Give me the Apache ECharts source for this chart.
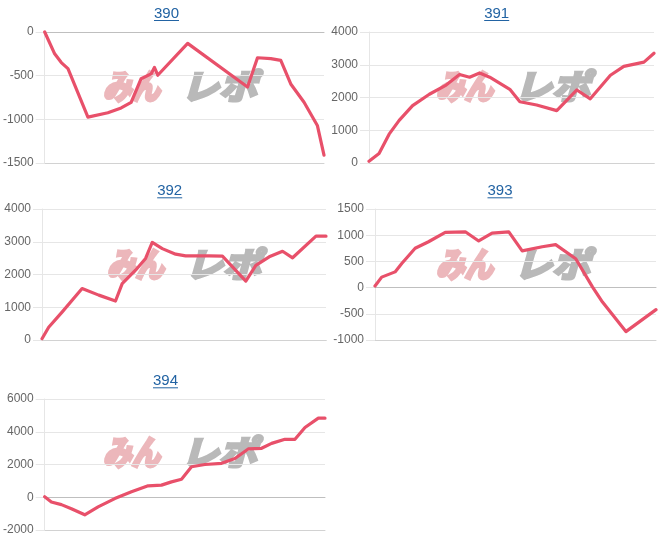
<!DOCTYPE html>
<html><head><meta charset="utf-8">
<script src="https://cdn.jsdelivr.net/npm/echarts/dist/echarts.min.js"></script>
<style>html,body{margin:0;padding:0;background:#fff}#c{width:664px;height:541px}</style>
</head><body><div id="c"></div>
<script>
// ---- data ----
const titles = ['390', '391', '392', '393', '394'];
const x390 = [0, 3, 5, 7, 13, 19, 23, 26, 29, 32, 33, 34, 43, 61, 64, 68, 71, 74, 78, 82, 84];
const y390 = [0, -250, -350, -420, -975, -925, -870, -805, -535, -480, -405, -495, -130, -630, -295, -305, -325, -595, -805, -1070, -1410];
const x391 = [0, 3, 6, 9, 13, 18, 23, 27, 30, 33, 36, 42, 45, 50, 56, 62, 66, 72, 76, 82, 85];
const y391 = [50, 290, 880, 1300, 1750, 2100, 2380, 2700, 2620, 2750, 2620, 2250, 1870, 1770, 1600, 2230, 1960, 2680, 2950, 3080, 3350];
const x392 = [0, 2, 6, 12, 17, 22, 24, 28, 31, 33, 36, 40, 43, 50, 54, 61, 64, 68, 72, 75, 82, 85];
const y392 = [40, 390, 850, 1570, 1370, 1190, 1720, 2130, 2490, 2980, 2790, 2620, 2570, 2570, 2560, 1800, 2280, 2540, 2710, 2510, 3170, 3170];
const x393 = [0, 2, 6, 8, 12, 16, 21, 27, 31, 35, 40, 44, 50, 54, 60, 65, 68, 75, 84];
const y393 = [30, 200, 300, 460, 750, 875, 1055, 1065, 890, 1040, 1065, 700, 780, 820, 550, 15, -275, -840, -420];
const x394 = [0, 2, 5, 8, 12, 16, 21, 26, 31, 35, 38, 41, 44, 48, 53, 57, 61, 65, 68, 72, 75, 78, 82, 84];
const y394 = [30, -290, -450, -700, -1070, -590, -80, 330, 700, 740, 940, 1100, 1860, 2000, 2070, 2370, 2950, 2990, 3290, 3540, 3540, 4260, 4830, 4830];
const yMin = [-1500, 0, 0, -1000, -2000];
const yMax = [0, 4000, 4000, 1500, 6000];
const yStep = [500, 1000, 1000, 500, 2000];

const xs = [x390, x391, x392, x393, x394];
const ys = [y390, y391, y392, y393, y394];

// ---- layout ----
const layout = [
  {left: 43, top: 32, width: 281, height: 131, tx: 166.5, ty: 13.5, wx: 102, wy: 73},
  {left: 369, top: 32, width: 285, height: 131, tx: 496.7, ty: 13.5, wx: 435, wy: 73},
  {left: 42, top: 209, width: 284, height: 131, tx: 169.7, ty: 190.8, wx: 106, wy: 251},
  {left: 375, top: 209, width: 281, height: 131, tx: 500, ty: 190.8, wx: 435, wy: 251},
  {left: 42, top: 399, width: 283, height: 131, tx: 165.5, ty: 380.8, wx: 102, wy: 439}
];
const FONT = '"Liberation Sans", Arial, Helvetica, sans-serif';
const LINK = '#2263a3';
const LINE = '#e8506a';
const GRIDC = '#e6e6e6';
const WMFONT = '"Noto Sans CJK JP", "Noto Sans CJK SC", sans-serif';

const mctx = document.createElement('canvas').getContext('2d');
mctx.font = '15px ' + FONT;

const grid = [], xAxis = [], yAxis = [], series = [], graphic = [];
layout.forEach((L, i) => {
  grid.push({left: L.left, top: L.top, width: L.width, height: L.height, containLabel: false});
  xAxis.push({
    gridIndex: i, type: 'value', min: 0, max: 'dataMax',
    axisLine: {show: true, onZero: true, lineStyle: {color: '#bfbfbf'}},
    axisTick: {show: false}, axisLabel: {show: false}, splitLine: {show: false}
  });
  xAxis.push({
    gridIndex: i, type: 'value', position: 'bottom', min: 0, max: 'dataMax',
    axisLine: {show: true, onZero: false, lineStyle: {color: '#d2d2d2'}},
    axisTick: {show: false}, axisLabel: {show: false}, splitLine: {show: false}
  });
  yAxis.push({
    gridIndex: i, type: 'value', min: yMin[i], max: yMax[i], interval: yStep[i],
    axisLine: {show: true, lineStyle: {color: GRIDC}},
    axisTick: {show: true, length: 9, lineStyle: {color: GRIDC}},
    axisLabel: {color: '#666', fontSize: 12, fontFamily: FONT, margin: 11, formatter: v => String(v)},
    splitLine: {show: true, lineStyle: {color: GRIDC}}
  });
  series.push({
    type: 'line', xAxisIndex: 2 * i, yAxisIndex: i,
    data: xs[i].map((x, k) => [x, ys[i][k]]),
    showSymbol: false, symbol: 'none', clip: false, z: 5,
    lineStyle: {color: LINE, width: 3.2, join: 'round', cap: 'round'},
    animation: false
  });
  const tw = mctx.measureText(titles[i]).width;
  graphic.push({
    type: 'text', x: L.tx, y: L.ty, z: 10,
    style: {text: titles[i], fill: LINK, fontSize: 15, fontFamily: FONT, align: 'center', verticalAlign: 'middle'}
  });
  graphic.push({
    type: 'rect', z: 10, shape: {x: L.tx - tw / 2, y: L.ty + 6.5, width: tw, height: 1},
    style: {fill: LINK}
  });
  graphic.push({
    type: 'text', x: L.wx + 1, y: L.wy - 4, z: 0, scaleX: 0.84,
    style: {text: 'みん', fill: '#ecb7bb', stroke: '#ecb7bb', lineWidth: 3.5, fontSize: 34, fontWeight: 'bold', fontStyle: 'italic', fontFamily: WMFONT, verticalAlign: 'top'}
  });
  graphic.push({
    type: 'text', x: L.wx + 79, y: L.wy - 4, z: 0, scaleX: 1.12,
    style: {text: 'レポ', fill: '#b9b9b9', stroke: '#b9b9b9', lineWidth: 3, fontSize: 34, fontWeight: 'bold', fontStyle: 'italic', fontFamily: WMFONT, verticalAlign: 'top'}
  });
});

const chart = echarts.init(document.getElementById('c'), null, {renderer: 'canvas'});
chart.setOption({
  animation: false,
  backgroundColor: '#fff',
  grid, xAxis, yAxis, series, graphic
});
</script>
</body></html>
